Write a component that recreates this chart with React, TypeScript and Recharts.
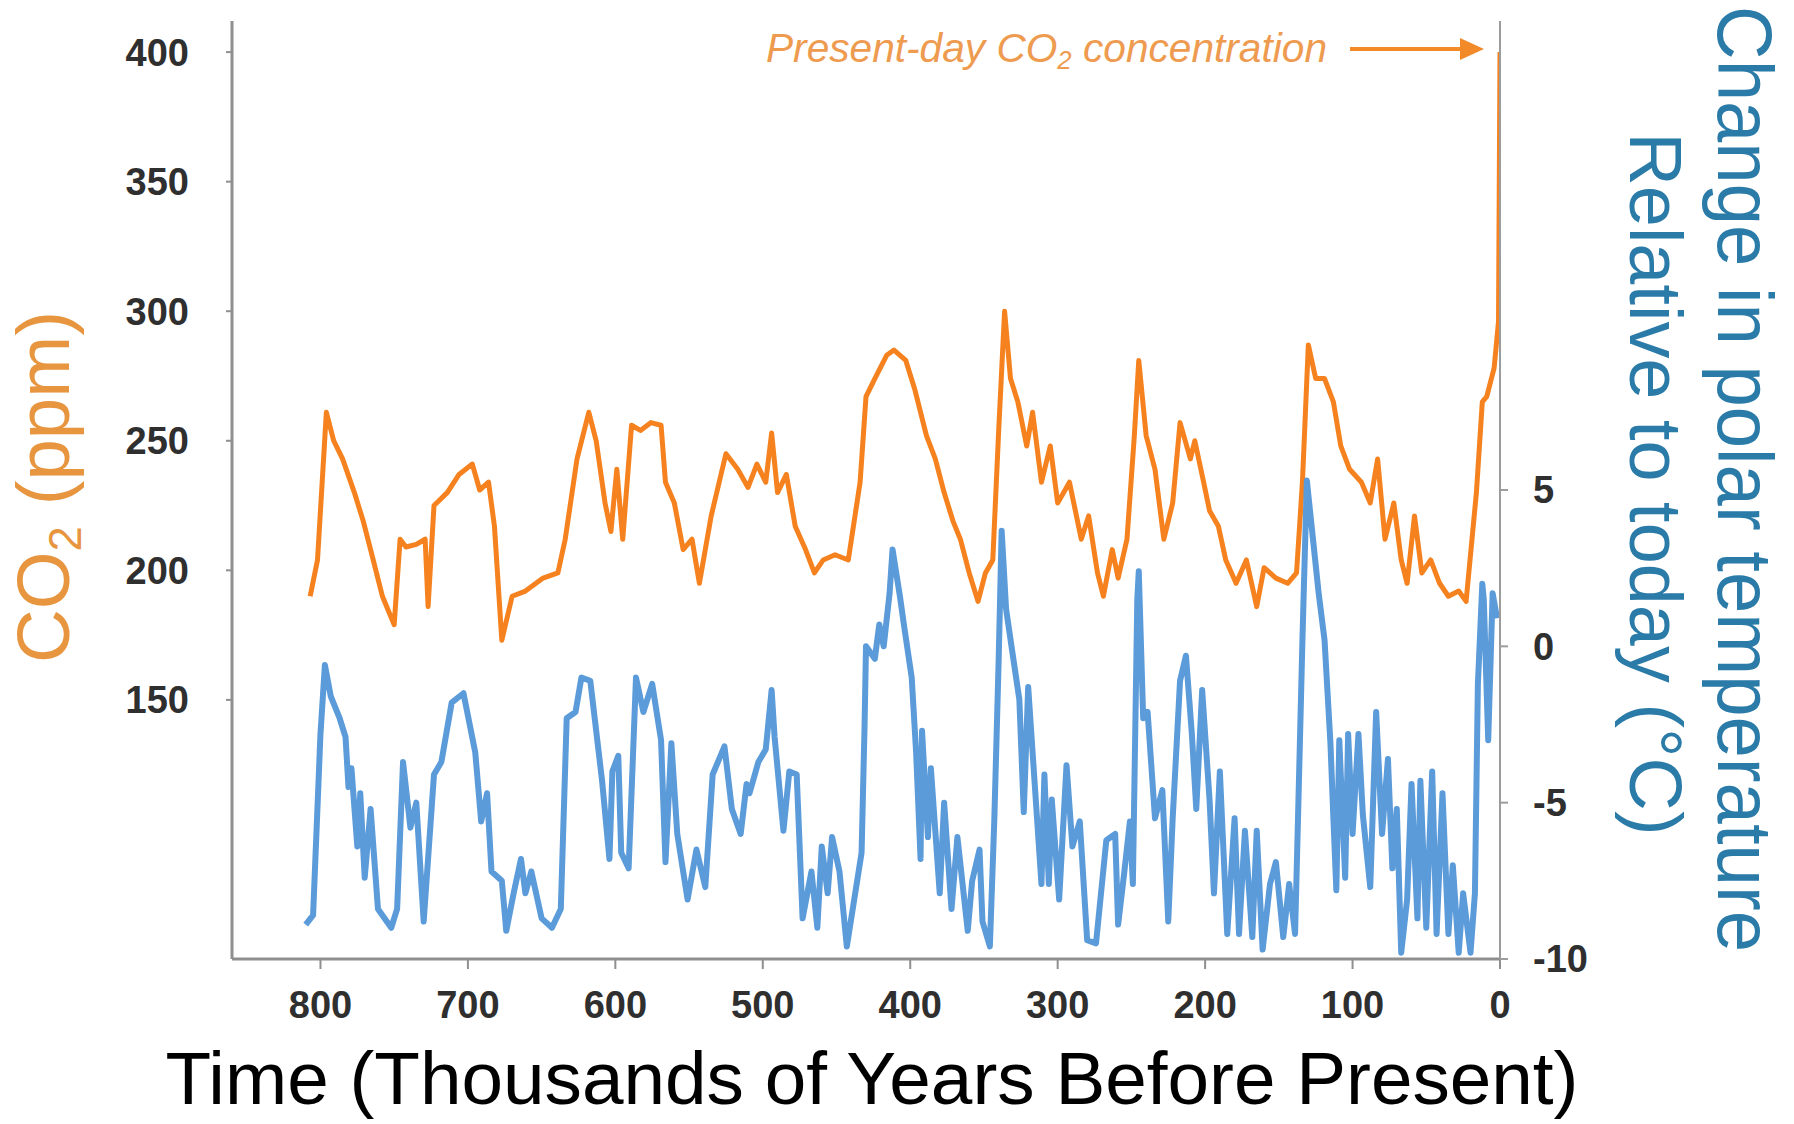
import React from "react";
import { ComposedChart, Line, XAxis, YAxis } from "recharts";

// ---- data (age in thousands of years before present) ----
const CO2_AGE = [
  807, 802, 796, 791, 785, 777, 771, 766, 758, 750, 746, 742, 735, 729, 727, 723, 714, 706, 697, 692,
  686, 682, 677, 670, 661, 649, 639, 634, 626, 618, 613, 607, 603, 599, 595, 589, 583, 576, 569, 566,
  560, 554, 548, 543, 535, 525, 517, 510, 504, 498, 494, 490, 484, 478, 471, 465, 459, 451, 442, 434,
  430, 424, 416, 411, 403, 397, 389, 383, 377, 371, 366, 360, 354, 349, 344, 340, 336, 332, 327, 321,
  317, 311, 305, 300, 292, 284, 279, 273, 269, 263, 259, 253, 248, 245, 240, 234, 228, 222, 217, 210,
  207, 201, 197, 191, 186, 179, 172, 165, 160, 152, 144, 138, 134, 130, 125, 119, 113, 108, 102, 94,
  88, 83, 78, 72, 67, 63, 58, 53, 47, 41, 35, 28, 23, 16, 12, 9, 4, 1, 0,
];
const CO2_PPM = [
  190, 204, 261, 250, 243, 230, 219, 208, 190, 179, 212, 209, 210, 212, 186, 225, 230, 237, 241, 231,
  234, 217, 173, 190, 192, 197, 199, 212, 243, 261, 250, 226, 215, 239, 212, 256, 254, 257, 256, 234,
  226, 208, 212, 195, 221, 245, 239, 232, 241, 234, 253, 230, 237, 217, 208, 199, 204, 206, 204, 234,
  267, 274, 283, 285, 281, 270, 252, 243, 230, 219, 212, 199, 188, 199, 204, 254, 300, 274, 265, 248,
  261, 234, 248, 226, 234, 212, 221, 199, 190, 208, 197, 212, 252, 281, 252, 239, 212, 226, 257, 243,
  250, 234, 223, 217, 204, 195, 204, 186, 201, 197, 195, 199, 234, 287, 274, 274, 265, 248, 239, 234,
  226, 243, 212, 226, 204, 195, 221, 199, 204, 195, 190, 192, 188, 230, 265, 267, 278, 296, 400,
];

const TEMP_AGE = [
  810, 805, 800, 797, 793, 787, 783, 781, 779, 775, 773, 770, 766, 761, 752, 748, 744, 739, 735, 730,
  723, 718, 711, 703, 695, 691, 687, 684, 677, 674, 669, 664, 661, 657, 650, 643, 637, 633, 627, 623,
  617, 609, 604, 602, 598, 596, 591, 586, 581, 575, 569, 566, 562, 558, 551, 545, 539, 534, 526, 521,
  515, 511, 509, 503, 498, 494, 492, 486, 482, 477, 473, 467, 463, 460, 456, 453, 448, 443, 438, 433,
  431, 430, 424, 421, 418, 414, 412, 407, 404, 399, 396, 393, 392, 388, 386, 380, 377, 372, 368, 361,
  358, 353, 351, 346, 343, 340, 338, 335, 331, 326, 323, 320, 314, 311, 309, 306, 304, 299, 294, 290,
  285, 280, 274, 267, 261, 259, 255, 251, 249, 246, 245, 242, 239, 234, 229, 225, 222, 217, 213, 209,
  206, 202, 197, 194, 190, 185, 180, 177, 173, 168, 165, 161, 156, 152, 147, 143, 139, 137, 134, 131,
  127, 123, 119, 115, 113, 111, 109, 105, 103, 100, 96, 93, 88, 84, 80, 76, 73, 70, 67, 63,
  60, 56, 54, 50, 46, 43, 39, 35, 32, 28, 25, 20, 17, 15, 12, 11, 8, 5, 2,
];
const TEMP_DELTA = [
  -8.9, -8.6, -2.8, -0.6, -1.6, -2.3, -2.9, -4.5, -3.9, -6.4, -4.7, -7.4, -5.2, -8.4, -9.0, -8.4, -3.7, -5.8, -5.0, -8.8,
  -4.1, -3.7, -1.8, -1.5, -3.4, -5.6, -4.7, -7.2, -7.5, -9.1, -7.9, -6.8, -7.9, -7.2, -8.7, -9.0, -8.4, -2.3, -2.1, -1.0,
  -1.1, -4.3, -6.8, -4.0, -3.5, -6.6, -7.1, -1.0, -2.1, -1.2, -3.0, -6.9, -3.1, -6.0, -8.1, -6.5, -7.7, -4.1, -3.2, -5.2,
  -6.0, -4.4, -4.7, -3.7, -3.3, -1.4, -2.9, -5.9, -4.0, -4.1, -8.7, -7.2, -9.0, -6.4, -7.9, -6.1, -7.2, -9.6, -8.1, -6.6,
  -2.6, 0.0, -0.4, 0.7, 0.0, 1.7, 3.1, 1.6, 0.6, -1.0, -3.4, -6.8, -2.7, -6.1, -3.9, -7.9, -5.0, -8.4, -6.1, -9.1,
  -7.5, -6.5, -8.8, -9.6, -5.6, -0.4, 3.7, 1.2, -0.1, -1.7, -5.3, -1.3, -5.5, -7.6, -4.1, -7.6, -4.9, -8.1, -3.8, -6.4,
  -5.6, -9.4, -9.5, -6.2, -6.0, -8.9, -7.3, -5.6, -7.6, 1.5, 2.4, -2.3, -2.1, -5.5, -4.6, -8.8, -5.5, -1.1, -0.3, -2.8,
  -5.2, -1.4, -4.9, -7.9, -4.0, -9.2, -5.5, -9.2, -5.9, -9.3, -5.9, -9.7, -7.6, -6.9, -9.3, -7.6, -9.2, -5.5, 0.2, 5.3,
  3.5, 1.7, 0.2, -3.1, -5.5, -7.8, -3.0, -7.4, -2.8, -6.0, -2.8, -5.4, -7.7, -2.1, -6.0, -3.6, -7.1, -5.2, -9.8, -8.1,
  -4.4, -8.7, -4.3, -9.0, -4.0, -9.2, -4.7, -9.2, -7.0, -9.8, -7.9, -9.8, -7.9, -1.2, 2.0, 1.5, -3.0, 1.7, 0.9,
];

const X_TICKS = [800, 700, 600, 500, 400, 300, 200, 100, 0];
const CO2_TICKS = [150, 200, 250, 300, 350, 400];
const TEMP_TICKS = [-10, -5, 0, 5];

const co2Data = CO2_AGE.map((age, i) => ({ age, co2: CO2_PPM[i] }));
const tempData = TEMP_AGE.map((age, i) => ({ age, temp: TEMP_DELTA[i] }));

const FONT = '"Liberation Sans", Arial, Helvetica, sans-serif';
const AXIS_GRAY = "#8f8f8f";
const TICK_STYLE = { fill: "#2f2f2f", fontSize: 38, fontWeight: 700, fontFamily: FONT };

function Titles() {
  return (
    <g>
      {/* left axis title */}
      <text
        x={69}
        y={487}
        transform="rotate(-90, 69, 487)"
        textAnchor="middle"
        fill="#E8953F"
        fontSize={75}
        fontFamily={FONT}
        textLength={352}
        lengthAdjust="spacingAndGlyphs"
      >
        CO<tspan fontSize={46} dy={12}>2</tspan>
        <tspan dy={-12}> (ppm)</tspan>
      </text>
      {/* right axis titles */}
      <text
        x={1718}
        y={479}
        transform="rotate(90, 1718, 479)"
        textAnchor="middle"
        fill="#2B7BA8"
        fontSize={77}
        fontFamily={FONT}
        textLength={946}
        lengthAdjust="spacingAndGlyphs"
      >
        Change in polar temperature
      </text>
      <text
        x={1630}
        y={484}
        transform="rotate(90, 1630, 484)"
        textAnchor="middle"
        fill="#2B7BA8"
        fontSize={75}
        fontFamily={FONT}
        textLength={703}
        lengthAdjust="spacingAndGlyphs"
      >
        Relative to today (°C)
      </text>
      {/* x axis title */}
      <text
        x={872}
        y={1104}
        textAnchor="middle"
        fill="#000"
        fontSize={75}
        fontFamily={FONT}
        textLength={1413}
        lengthAdjust="spacingAndGlyphs"
      >
        Time (Thousands of Years Before Present)
      </text>
      {/* annotation */}
      <text
        x={766}
        y={62}
        fill="#EE9B50"
        fontSize={41}
        fontStyle="italic"
        fontFamily={FONT}
        textLength={561}
        lengthAdjust="spacingAndGlyphs"
      >
        Present-day CO<tspan fontSize={26} dy={7}>2</tspan>
        <tspan dy={-7}> concentration</tspan>
      </text>
      <line x1={1350} y1={49} x2={1466} y2={49} stroke="#F28A2A" strokeWidth={4} />
      <polygon points="1484,49 1460,38 1460,60" fill="#F28A2A" />
    </g>
  );
}

export default function App() {
  return (
    <div style={{ position: "absolute", left: 0, top: 0, width: 1794, height: 1124, background: "#fff" }}>
      <ComposedChart
        width={1794}
        height={1124}
        margin={{ top: 21, right: 0, bottom: 0, left: 0 }}
        style={{ fontFamily: FONT }}
      >
        <XAxis
          type="number"
          dataKey="age"
          domain={[0, 860]}
          reversed
          allowDataOverflow
          ticks={X_TICKS}
          interval={0}
          height={165}
          axisLine={{ stroke: AXIS_GRAY, strokeWidth: 3 }}
          tickLine={{ stroke: AXIS_GRAY, strokeWidth: 2 }}
          tickSize={10}
          tickMargin={22}
          tick={TICK_STYLE}
        />
        <YAxis
          yAxisId="co2"
          orientation="left"
          width={232}
          domain={[50, 412]}
          allowDataOverflow
          ticks={CO2_TICKS}
          interval={0}
          axisLine={{ stroke: AXIS_GRAY, strokeWidth: 3 }}
          tickLine={{ stroke: AXIS_GRAY, strokeWidth: 2 }}
          tickSize={6}
          tickMargin={37}
          tick={TICK_STYLE}
        />
        <YAxis
          yAxisId="temp"
          orientation="right"
          width={294}
          domain={[-10, 20]}
          allowDataOverflow
          ticks={TEMP_TICKS}
          interval={0}
          axisLine={{ stroke: "#9c9c9c", strokeWidth: 2 }}
          tickLine={{ stroke: "#9c9c9c", strokeWidth: 2 }}
          tickSize={8}
          tickMargin={25}
          tick={TICK_STYLE}
        />
        <Line
          yAxisId="co2"
          data={co2Data}
          dataKey="co2"
          type="linear"
          stroke="#F5821F"
          strokeWidth={5}
          strokeLinejoin="round"
          dot={false}
          activeDot={false}
          isAnimationActive={false}
        />
        <Line
          yAxisId="temp"
          data={tempData}
          dataKey="temp"
          type="linear"
          stroke="#5B9BD9"
          strokeWidth={6}
          strokeLinejoin="round"
          dot={false}
          activeDot={false}
          isAnimationActive={false}
        />
        <Titles />
      </ComposedChart>
    </div>
  );
}
